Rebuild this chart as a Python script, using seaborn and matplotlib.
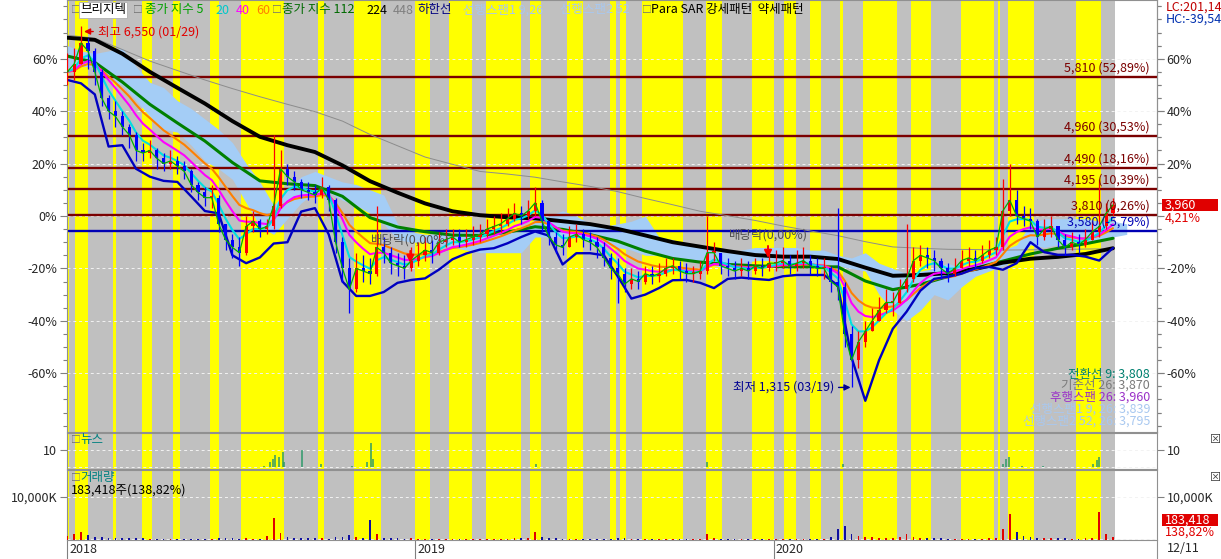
import matplotlib
matplotlib.use('Agg')
import matplotlib.pyplot as plt
import matplotlib.dates as mdates
import matplotlib.transforms as mtrans
from matplotlib.patches import Rectangle
from matplotlib.lines import Line2D
from matplotlib.ticker import FuncFormatter, MultipleLocator
import seaborn as sns
import pandas as pd
import numpy as np

W, H = 1221, 559
BASE_PRICE = 3800  # 0% line of the chart

# ── weekly candles (values in % vs BASE_PRICE) ──────────────────────────────
weeks = pd.date_range('2018-01-12', periods=153, freq='7D')
close_pct = [55, 58, 66, 63, 55, 45, 40, 38, 34, 31,
             25, 24, 25, 22, 20, 21, 19, 17, 12, 9,
             7, 7, -3, -9, -12, -14, -4, -2, -5, -4,
             4, 18, 15, 13, 10, 9, 8, 11, 6, -10,
             -20, -28, -20, -21, -22, -12, -14, -18, -19, -20,
             -17, -15, -13, -14, -10, -9, -8, -10, -9, -8,
             -7, -5, -4, -3, -1, 1, 0, 2, 5, -2,
             -8, -11, -12, -8, -7, -9, -10, -12, -16, -20,
             -22, -26, -24, -25, -22, -23, -22, -20, -19, -21,
             -22, -22, -21, -14, -14, -19, -20, -21, -20, -21,
             -19, -20, -18, -18, -17, -19, -18, -17, -19, -20,
             -20, -25, -27, -45, -55, -48, -44, -40, -36, -33,
             -33, -28, -24, -17, -15, -16, -17, -20, -22, -20,
             -17, -16, -17, -15, -13, -12, 2, 6, 0, -1,
             -2, -8, -5, -4, -9, -12, -10, -11, -9, -6,
             -4, 1, 4.21]
high_pct = [62, 64, 72.4, 68, 64, 56, 46, 44, 40, 35,
            32, 28, 29, 26, 24, 25, 23, 21, 18, 13,
            11, 12, 8, -3, -7, -8, 0, 2, -1, -1,
            31, 25, 20, 17, 14, 13, 12, 15, 12, 7,
            -8, -16, -14, -15, -16, 4, -8, -12, -14, -15,
            -12, -10, -8, -9, -6, -5, -5, -5, -5, -4,
            -3, -1, 0, 1, 3, 5, 4, 6, 11, 6,
            -2, -6, -7, -4, -3, -5, -6, -8, -10, -14,
            -16, -20, -20, -21, -19, -19, -18, -16, -16, -17,
            -18, -19, -17, 0, -10, -14, -16, -17, -16, -17,
            -16, -16, -14, -13, -12, -15, -13, -12, -15, -16,
            -16, -19, 3, -25, -42, -44, -40, -35, -31, -28,
            -29, -24, -3, -12, -11, -12, -13, -16, -18, -16,
            -13, -12, -13, -11, -9, -8, 14, 20, 10, 4,
            3, -1, -1, 0, -4, -7, -6, -7, -5, -2,
            14, 5, 7]
low_pct = [50, 52, 58, 56, 50, 42, 37, 34, 31, 26,
           21, 21, 22, 18, 17, 18, 16, 14, 9, 6,
           4, 3, -6, -13, -16, -19, -15, -6, -8, -7,
           -5, 3, 12, 10, 7, 6, 5, 7, 2, -14,
           -25, -37, -29, -25, -26, -23, -18, -22, -23, -24,
           -21, -19, -17, -18, -15, -12, -11, -12, -12, -11,
           -10, -8, -7, -6, -4, -2, -3, -1, 0, -6,
           -11, -14, -15, -12, -10, -12, -13, -16, -19, -24,
           -33, -29, -28, -28, -26, -26, -25, -23, -22, -24,
           -25, -25, -24, -22, -17, -22, -23, -24, -23, -24,
           -22, -23, -21, -21, -20, -22, -21, -20, -22, -23,
           -24, -29, -32, -50, -65.4, -58, -50, -44, -40, -37,
           -38, -33, -29, -25, -19, -20, -21, -24, -25, -23,
           -20, -19, -20, -18, -16, -15, -13, 0, -3, -4,
           -5, -11, -9, -8, -12, -15, -13, -14, -12, -9,
           -8, -5, 0]
volume_k = [900, 1300, 1800, 1100, 700, 600, 500, 450, 400, 380,
            420, 350, 300, 320, 280, 300, 260, 250, 300, 280,
            260, 240, 350, 420, 380, 340, 500, 320, 300, 900,
            5100, 1600, 700, 500, 400, 380, 350, 420, 330, 600,
            700, 1100, 600, 500, 4600, 1300, 500, 400, 350, 300,
            380, 300, 280, 260, 300, 280, 260, 250, 240, 230,
            260, 250, 300, 280, 320, 400, 350, 500, 1800, 700,
            400, 350, 300, 280, 260, 250, 240, 230, 260, 300,
            450, 350, 300, 260, 240, 230, 220, 230, 250, 240,
            230, 220, 240, 1500, 500, 300, 260, 250, 240, 230,
            280, 260, 250, 240, 250, 230, 240, 260, 300, 280,
            300, 600, 2500, 3200, 1500, 900, 700, 600, 500, 450,
            420, 600, 1300, 700, 500, 400, 380, 350, 300, 320,
            300, 280, 300, 320, 350, 400, 2600, 6000, 1800, 900,
            700, 500, 450, 400, 380, 350, 330, 320, 400, 500,
            6500, 1400, 600]

# ── long moving averages, every 4 weeks ─────────────────────────────────────
ma_dates = weeks[::4]
ma112_pct = [61, 58.6, 51.1, 42.6, 35.5, 28.6, 20.4, 13.4, 12.3, 11.6,
             7.5, -0.6, -4.2, -6, -7.3, -7.4, -6.2, -4.1, -5.1, -7.1,
             -9.6, -13.4, -16.2, -17.6, -18.5, -19, -19.4, -19.4, -19.4, -24.8,
             -28.1, -26.1, -23.1, -19.9, -17.2, -14.5, -12.3, -10.6, -8.5]
ma224_pct = [68, 67.2, 61.9, 55, 48.9, 42.9, 36.2, 30.2, 27, 24.4,
             19.3, 13.3, 8.9, 4.8, 1.8, 0.3, -0.5, -0.9, -2, -3.1,
             -4.9, -7.4, -10, -11.7, -13.4, -14.9, -15.5, -15.5, -16.4, -19.7,
             -22.8, -22.5, -21.8, -20.2, -17.8, -16.3, -15.6, -14.5, -12.3]
ma448_pct = [69, 67.8, 63.5, 59.1, 55.5, 51.9, 48.6, 45.5, 42.6, 39.8,
             36.2, 31.1, 26.8, 22.5, 19.7, 17, 16, 14.8, 13, 11.3,
             9.3, 6.7, 4.3, 1.8, 0.1, -1.7, -3.8, -5.7, -7.5, -9.8,
             -11.8, -12.3, -12.7, -12.8, -13, -12.9, -12.8, -12.6, -12.5]

# ── lower line (하한선), every 2 weeks ───────────────────────────────────────
low_dates = weeks[::2]
lower_pct = [51.9, 50.6, 46.4, 26.5, 27, 18, 15, 13.4, 13, 7.5,
             1.9, 1, -15, -18, -15.8, -10.5, -10, 1.7, 3, -7,
             -25, -30.5, -30.5, -29, -25.5, -24.4, -23.8, -20.5, -16.5, -14.3,
             -12.8, -12.3, -10.4, -8, -5.9, -7.5, -18.5, -14.2, -14.2, -15,
             -23, -31.5, -30, -27.5, -24.5, -24.4, -25.5, -27.5, -24, -23.5,
             -24, -24.4, -23, -22.5, -22.5, -22.5, -26.5, -54, -70.5, -55,
             -43, -36.5, -28.5, -24, -23.2, -22, -20, -19.4, -20.5, -18,
             -10, -13.8, -14.8, -14.8, -15.5, -17, -12.2]

# ── ichimoku cloud edges, every 2 weeks (runs past the last bar) ────────────
cloud_dates = pd.date_range('2018-01-12', periods=78, freq='14D')
span_top_pct = [65, 63, 62, 63, 64, 57, 51, 49, 44, 41,
                37, 33, 28, 20, 13, 4, 10, 15, 17, 15,
                13, 12, 10, 8, -3, -6, -7, -7, -6, -6,
                -6, -6, -6, -6, -1, 0, 2, 0, -3, -4,
                -3, -2, 0, -8, -9, -11, -12, -13, -14, -13,
                -12, -12, -12, -12, -13, -13, -15, -16, -14, -18,
                -20, -22, -21, -20, -18, -20, -18, -16, -13, -11,
                -3, -1, -1, -1, -1, -2, -2, -3]
span_bot_pct = [56, 57, 57, 52, 50, 44, 38, 33, 32, 27,
                21, 18, 14, 5, -4, -7, -1, 5, 9, 9,
                6, 4, 1, -3, -9, -10, -10, -11, -12, -13,
                -14, -14, -14, -14, -8, -8, -8, -8, -9, -11,
                -12, -13, -15, -15, -16, -17, -18, -19, -20, -18,
                -17, -17, -18, -18, -18, -18, -19, -20, -21, -30,
                -36, -40, -36, -30, -32, -27, -23, -21, -19, -17,
                -11, -12, -11, -10, -10, -9, -8, -7]

# ── 강세패턴 (yellow) periods; everything else up to the last bar is grey ──
strong_periods = [('2018-01-11', '2018-01-14'), ('2018-01-20', '2018-02-02'),
                  ('2018-02-28', '2018-03-03'), ('2018-03-29', '2018-04-08'),
                  ('2018-04-30', '2018-05-07'), ('2018-06-06', '2018-06-15'),
                  ('2018-07-08', '2018-08-21'), ('2018-09-24', '2018-09-30'),
                  ('2018-10-31', '2018-11-27'), ('2019-01-01', '2019-01-16'),
                  ('2019-02-04', '2019-02-28'), ('2019-03-14', '2019-04-19'),
                  ('2019-04-28', '2019-05-09'), ('2019-06-04', '2019-06-21'),
                  ('2019-07-18', '2019-07-24'), ('2019-07-28', '2019-08-03'),
                  ('2019-08-20', '2019-10-01'), ('2019-10-24', '2019-11-09'),
                  ('2019-12-10', '2020-01-01'), ('2020-01-11', '2020-01-23'),
                  ('2020-02-07', '2020-02-18'), ('2020-03-08', '2020-03-11'),
                  ('2020-04-01', '2020-05-05'), ('2020-05-19', '2020-06-09'),
                  ('2020-07-09', '2020-08-12'), ('2020-08-16', '2020-08-18'),
                  ('2020-08-26', '2020-09-22'), ('2020-11-03', '2020-11-29')]
pattern_end = '2020-12-13'

# ── news counts ─────────────────────────────────────────────────────────────
news_dates = ['2018-07-31', '2018-08-06', '2018-08-09', '2018-08-11', '2018-08-15',
              '2018-08-19', '2018-08-21', '2018-09-08', '2018-09-27', '2018-10-29',
              '2018-11-13', '2018-11-17', '2018-11-19', '2019-05-04', '2019-10-25',
              '2020-03-11', '2020-08-21', '2020-08-24', '2020-08-27', '2020-09-09',
              '2020-10-01', '2020-11-21', '2020-11-25', '2020-11-27']
news_counts = [1, 3, 5, 7, 6, 9, 3, 10, 2, 1, 3, 14, 5, 2, 3, 2, 2, 5, 6, 1, 1, 2, 4, 6]

# ── support / resistance levels and events ──────────────────────────────────
level_prices = [5810, 4960, 4490, 4195, 3810, 3580]
level_labels = ['5,810 (52,89%)', '4,960 (30,53%)', '4,490 (18,16%)',
                '4,195 (10,39%)', '3,810 (0,26%)', '3,580 (-5,79%)']
level_colors = ['#7a0000'] * 5 + ['#0000b4']
dividend_dates = ['2018-12-27', '2019-12-26']
dividend_pct = [-17.9, -16.0]
max_date, max_price = '2018-01-29', 6550
min_date, min_price = '2020-03-19', 1315

pct_ticks = [-60, -40, -20, 0, 20, 40, 60]
YELLOW, GREY = '#ffff00', '#c0c0c0'


def to_pct(price):
    return (price / BASE_PRICE - 1) * 100


def d2n(d):
    return mdates.date2num(pd.Timestamp(d))


sns.set_theme(style='white')
plt.rcParams['font.family'] = ['Noto Sans CJK KR', 'DejaVu Sans']
plt.rcParams['axes.unicode_minus'] = False
plt.rcParams['font.size'] = 9

fig = plt.figure(figsize=(W / 100, H / 100), dpi=100)
fig.patch.set_facecolor('white')


def put(x, y, s, **kw):
    kw.setdefault('va', 'center')
    kw.setdefault('fontsize', 9)
    return fig.text(x / W, 1 - y / H, s, **kw)


L, R = 67, 1157
ax = fig.add_axes([L / W, 1 - 432 / H, (R - L) / W, 432 / H])
axn = fig.add_axes([L / W, 1 - 469 / H, (R - L) / W, 36 / H], sharex=ax)
axv = fig.add_axes([L / W, 1 - 540 / H, (R - L) / W, 70 / H], sharex=ax)

x0 = d2n('2018-01-29') - 17.3
x1 = d2n('2018-01-29') + 1091.8
for a in (ax, axn, axv):
    a.set_facecolor('white')
    a.axvspan(x0, d2n(pattern_end), color=GREY, lw=0, zorder=0)
    for s, e in strong_periods:
        a.axvspan(d2n(s), d2n(e), color=YELLOW, lw=0, zorder=0.1)
    a.set_axisbelow(True)
    for sp in a.spines.values():
        sp.set_color('#909090')
        sp.set_linewidth(0.8)
    a.tick_params(axis='y', which='both', left=True, right=True, labelleft=True,
                  labelright=True, direction='out', length=5, width=0.8,
                  color='#808080', labelsize=9, pad=2)
ax.set_xlim(x0, x1)

# ── main price panel ────────────────────────────────────────────────────────
close = np.array(close_pct, dtype=float)
opens = np.r_[close[0], close[:-1]]
up = close >= opens
cols = np.where(up, '#ff0000', '#0000ff')

ax.fill_between(cloud_dates, span_bot_pct, span_top_pct, color='#a4cdf6', lw=0, zorder=1)
for p, c in zip(level_prices, level_colors):
    ax.axhline(to_pct(p), color=c, lw=1.7, zorder=2)

sns.lineplot(x=ma_dates, y=ma448_pct, ax=ax, color='#8c8c8c', lw=0.7, zorder=2.5)
sns.lineplot(x=ma_dates, y=ma112_pct, ax=ax, color='#008000', lw=2.2, zorder=3)
sns.lineplot(x=ma_dates, y=ma224_pct, ax=ax, color='black', lw=2.8, zorder=3.2)
cs = pd.Series(close, index=weeks)
for span, col in ((12, '#ff8000'), (8, '#ff00ff'), (4, '#00e0e0')):
    sns.lineplot(x=weeks, y=cs.ewm(span=span, adjust=False).mean().values, ax=ax,
                 color=col, lw=1.5, zorder=3.5)
sns.lineplot(x=low_dates, y=lower_pct, ax=ax, color='#0000c0', lw=1.7, zorder=3.6)

ax.vlines(weeks, low_pct, high_pct, colors=cols, lw=0.9, zorder=4)
body = np.maximum(np.abs(close - opens), 0.5)
ax.bar(weeks, body, bottom=np.minimum(close, opens), width=3.2, color=cols,
       lw=0, zorder=4.1)
sns.lineplot(x=weeks, y=close, ax=ax, color='#00b000', lw=0.9, zorder=4.5)

pct_fmt = FuncFormatter(lambda v, _: f'{v:.0f}%')
ax.set_ylim(-82.4, 82.4)
ax.set_yticks(pct_ticks)
ax.yaxis.set_minor_locator(MultipleLocator(5))
ax.yaxis.set_major_formatter(pct_fmt)
ax.tick_params(axis='y', which='both', labelright=False)
ax.tick_params(axis='y', which='minor', length=3)
ax.tick_params(axis='x', bottom=False, labelbottom=False)
ax.grid(axis='y', which='major', color='#f2f2f2', ls=(0, (3, 3)), lw=0.7)
ax.set_xlabel('')
ax.set_ylabel('')
# right-hand scale: its 0% label sits under the last-price tag
ax_r = ax.secondary_yaxis('right')
ax_r.set_yticks([t for t in pct_ticks if t != 0])
ax_r.yaxis.set_major_formatter(pct_fmt)
ax_r.yaxis.set_minor_locator(MultipleLocator(5))
ax_r.tick_params(axis='y', length=5, width=0.8, color='#808080', labelsize=9, pad=2)
ax_r.tick_params(axis='y', which='minor', length=3, width=0.8, color='#808080')
ax_r.spines['right'].set_color('#909090')
ax_r.spines['right'].set_linewidth(0.8)

lbl_tr = mtrans.blended_transform_factory(ax.transAxes, ax.transData)
for p, t, c in zip(level_prices, level_labels, level_colors):
    ax.text((1150 - L) / (R - L), to_pct(p) + 1.0, t, transform=lbl_tr, ha='right',
            va='bottom', color=c, fontsize=9, zorder=6)

ax.annotate('최고 6,550 (01/29)', xy=(d2n(max_date), to_pct(max_price) - 2),
            xytext=(10, 0), textcoords='offset points', ha='left', va='center',
            color='#e00000', fontsize=9, zorder=7,
            arrowprops=dict(arrowstyle='-|>', color='#e00000', lw=1,
                            shrinkA=1, shrinkB=0, mutation_scale=9))
ax.annotate('최저 1,315 (03/19)', xy=(d2n(min_date), to_pct(min_price)),
            xytext=(-12, 0), textcoords='offset points', ha='right', va='center',
            color='#000090', fontsize=9, zorder=7,
            arrowprops=dict(arrowstyle='-|>', color='#000090', lw=1,
                            shrinkA=1, shrinkB=0, mutation_scale=9))
for d, p in zip(dividend_dates, dividend_pct):
    ax.annotate('배당락(0,00%)', xy=(d2n(d), p), xytext=(0, 12),
                textcoords='offset points', ha='center', va='bottom',
                color='#505050', fontsize=9, zorder=7,
                arrowprops=dict(arrowstyle='-|>', color='#ff0000', lw=1.4,
                                shrinkA=1, shrinkB=0, mutation_scale=11))

# ── news panel ──────────────────────────────────────────────────────────────
axn.vlines([d2n(d) for d in news_dates], 0, news_counts, colors='#2f9a6a', lw=1.1, zorder=3)
axn.set_ylim(-1, 20)
axn.set_yticks([10])
axn.set_yticklabels(['10'])
axn.axhline(0, color='#f2f2f2', ls=(0, (3, 3)), lw=0.7, zorder=0.5)
axn.grid(axis='y', color='#f2f2f2', ls=(0, (3, 3)), lw=0.7)
axn.tick_params(axis='x', bottom=False, labelbottom=False)

# ── volume panel ────────────────────────────────────────────────────────────
axv.bar(weeks, volume_k, width=1.8, color=np.where(up, '#e00000', '#1010a0'), lw=0, zorder=3)
axv.set_ylim(0, 16300)
axv.set_yticks([10000])
axv.set_yticklabels(['10,000K'])
axv.axhline(300, color='#f2f2f2', ls=(0, (3, 3)), lw=0.7, zorder=0.5)
axv.grid(axis='y', color='#f2f2f2', ls=(0, (3, 3)), lw=0.7)

year_ticks = ['2018-01-12', '2019-01-01', '2020-01-01']
axv.set_xticks([d2n(d) for d in year_ticks])
axv.tick_params(axis='x', bottom=True, labelbottom=False, length=14, width=0.8,
                color='#808080', direction='out')
xtr = mtrans.blended_transform_factory(axv.transData, axv.transAxes)
for d, t in zip(year_ticks, ['2018', '2019', '2020']):
    axv.text(d2n(d) + 2, -0.13, t, transform=xtr, ha='left', va='center', fontsize=9)
axv.set_xlim(x0, x1)
put(1167, 549, '12/11')
fig.add_artist(Line2D([R / W, R / W], [0, 1 - 540 / H], color='#909090', lw=0.8))

# ── header / legend texts ───────────────────────────────────────────────────
box = dict(color='#707070', fontsize=7)
put(71, 10, '□', **box)
put(80, 10, '브리지텍', color='black',
    bbox=dict(facecolor='white', edgecolor='#b0b0b0', pad=1.0, lw=0.6))
put(133, 10, '□', **box)
put(145, 10, '종가 지수 5', color='#00a000')
put(215, 10, '20', color='#00c8c8')
put(236, 10, '40', color='#ff00ff')
put(256, 10, '60', color='#ff8000')
put(272, 10, '□', **box)
put(282, 10, '종가 지수 112', color='#006a00')
put(366, 10, '224', color='black')
put(393, 10, '448', color='#808080')
put(417, 10, '하한선', color='#000080')
put(463, 10, '선행스팬1 9,26', color='#a8c8f0')
put(560, 10, '선행스팬2 52', color='#a8c8f0')
put(642, 10, '□', **box)
put(651, 10, 'Para SAR 강세패턴  약세패턴', color='black')
put(1166, 7, 'LC:201,14', color='#c00000')
put(1166, 19, 'HC:-39,54', color='#0030b0')

# last price tag
fig.add_artist(Rectangle((1162 / W, 1 - 211 / H), 56 / W, 12 / H,
                         transform=fig.transFigure, color='#e00000', lw=0))
put(1165, 205, '3,960', color='white')
put(1165, 218, '4,21%', color='#e00000')
fig.add_artist(Rectangle((1162 / W, 1 - 526 / H), 56 / W, 12 / H,
                         transform=fig.transFigure, color='#e00000', lw=0))
put(1165, 520, '183,418', color='white')
put(1165, 532, '138,82%', color='#e00000')

# ichimoku summary
for y, t, c in ((374, '전환선 9: 3,808', '#008070'), (385, '기준선 26: 3,870', '#7a7a7a'),
                (397, '후행스팬 26: 3,960', '#9a30c8'), (409, '선행스팬1 9, 26: 3,839', '#a8c8f0'),
                (421, '선행스팬2 52, 26: 3,795', '#a8c8f0')):
    put(1150, y, t, color=c, ha='right')

put(71, 440, '□', **box)
put(80, 440, '뉴스', color='#008080')
put(71, 478, '□', **box)
put(80, 478, '거래량', color='#008080')
put(71, 490, '183,418주(138,82%)', color='black')
put(1215, 440, '⊠', color='#404040', fontsize=8, ha='center')
put(1215, 478, '⊠', color='#404040', fontsize=8, ha='center')

fig.savefig('out.png', dpi=100)
